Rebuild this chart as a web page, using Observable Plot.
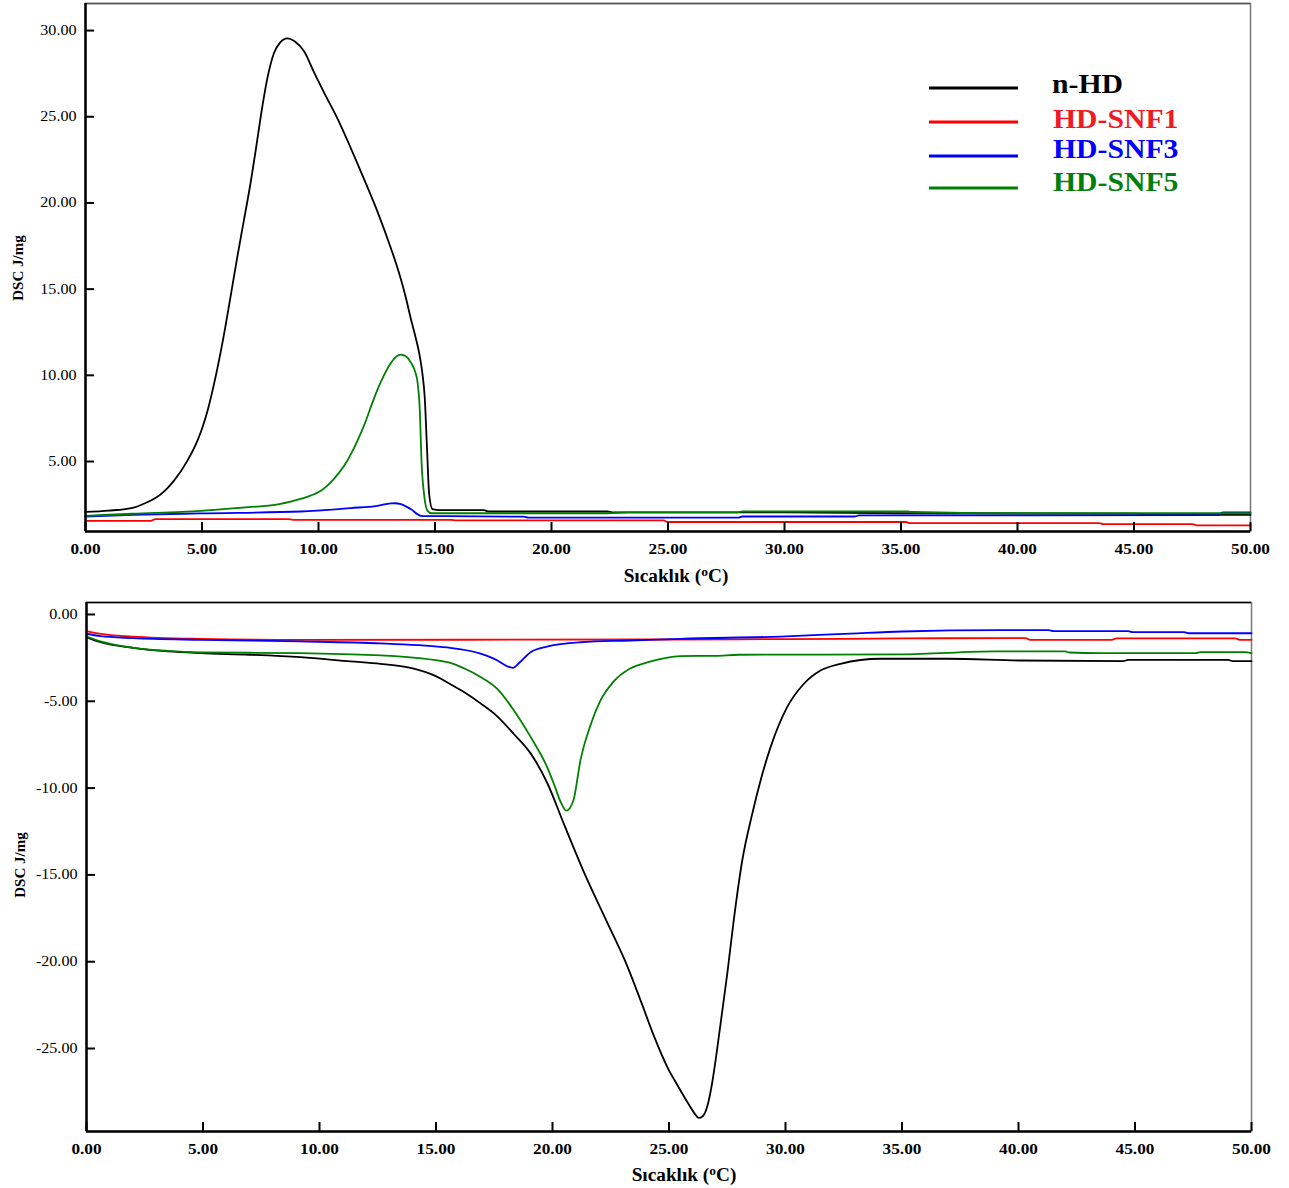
<!DOCTYPE html>
<html>
<head>
<meta charset="utf-8">
<script src="https://cdn.jsdelivr.net/npm/d3@7"></script>
<script src="https://cdn.jsdelivr.net/npm/@observablehq/plot@0.6"></script>
<style>
  body { margin: 0; background: #fff; }
  #wrap { position: relative; width: 1289px; height: 1188px; overflow: hidden; font-family: "Liberation Serif", "Times New Roman", serif; background: #fff; }
  .panel { position: absolute; left: 0; }
  .ylab { position: absolute; transform: translate(-50%, -50%) rotate(-90deg); font-weight: bold; font-size: 15px; white-space: nowrap; }
  .xlab { position: absolute; transform: translate(-50%, -50%) scaleX(1.07); font-weight: bold; font-size: 18px; white-space: nowrap; }
  .xlab sup { font-size: 0.7em; vertical-align: 0.45em; line-height: 0; }
</style>
</head>
<body>
<div id="wrap">
  <div id="top" class="panel" style="top:0px"></div>
  <div id="bottom" class="panel" style="top:590px"></div>
</div>
<script>
// ---------- categories & ticks ----------
const seriesNames = ["n-HD", "HD-SNF1", "HD-SNF3", "HD-SNF5"];
const seriesColors = ["#000000", "#ff0000", "#0000ff", "#008000"];
const legendTextColors = ["#000000", "#ed1c24", "#0000ff", "#007f0e"];
const xTicks = [0, 5, 10, 15, 20, 25, 30, 35, 40, 45, 50];
const topYTicks = [5, 10, 15, 20, 25, 30];
const bottomYTicks = [0, -5, -10, -15, -20, -25];
const xLabel = "Sıcaklık";
const yLabel = "DSC J/mg";

// ---------- top panel ----------
const topT_nHD = [0, 1, 2.07, 2.5, 2.93, 3.4, 3.79, 4.37, 4.8, 5.0, 5.25, 5.5, 5.75, 6.0, 6.23, 6.52, 6.8, 7.09, 7.3, 7.52, 7.8, 8.09, 8.35, 8.66, 9.0, 9.38, 9.8, 10.24, 10.81, 11.38, 11.95, 12.53, 13.1, 13.35, 13.53, 13.75, 13.96, 14.15, 14.32, 14.46, 14.56, 14.65, 14.75, 14.89, 15.2, 17.1, 17.3, 22.4, 22.6, 30, 35, 45, 46, 50];
const topV_nHD = [2.08, 2.15, 2.33, 2.55, 2.82, 3.3, 3.88, 5.04, 6.2, 6.9, 8.0, 9.4, 11.0, 12.8, 14.6, 16.9, 19.0, 21.2, 23.0, 25.0, 27.2, 28.7, 29.3, 29.55, 29.35, 28.8, 27.6, 26.4, 24.9, 23.2, 21.4, 19.5, 17.4, 16.4, 15.6, 14.5, 13.3, 12.3, 11.3, 10.1, 8.7, 6.0, 3.1, 2.24, 2.18, 2.18, 2.1, 2.1, 2.05, 2.05, 2.0, 1.97, 1.92, 1.9];

const topT_SNF1 = [0, 2.8, 3.0, 8.7, 8.9, 15.7, 15.9, 24.8, 25.0, 35.2, 35.4, 43.5, 43.7, 47.5, 47.7, 50];
const topV_SNF1 = [1.56, 1.56, 1.66, 1.66, 1.62, 1.62, 1.58, 1.58, 1.49, 1.49, 1.43, 1.43, 1.37, 1.37, 1.3, 1.3];

const topT_SNF3 = [0, 2, 4.94, 9.24, 11.38, 12.53, 13.1, 13.3, 13.53, 13.96, 14.39, 14.6, 15.5, 18.8, 19.0, 28, 28.2, 33, 33.2, 48.6, 48.8, 50];
const topV_SNF3 = [1.8, 1.9, 1.99, 2.1, 2.3, 2.43, 2.57, 2.58, 2.53, 2.24, 1.85, 1.83, 1.83, 1.8, 1.74, 1.74, 1.81, 1.81, 1.87, 1.89, 2.05, 2.05];

const topT_SNF5 = [0, 2, 4.94, 7, 8.2, 9.0, 9.52, 10.1, 10.38, 10.7, 11.1, 11.38, 11.67, 12.03, 12.31, 12.67, 13.1, 13.35, 13.53, 13.75, 13.96, 14.15, 14.25, 14.35, 14.42, 14.53, 14.68, 14.85, 22.4, 23.3, 28, 28.2, 35.3, 35.5, 40, 50];
const topV_SNF5 = [1.85, 1.97, 2.14, 2.35, 2.5, 2.75, 2.95, 3.3, 3.6, 4.05, 4.75, 5.4, 6.2, 7.35, 8.4, 9.6, 10.7, 11.1, 11.2, 11.1, 10.75, 10.2, 9.6, 7.9, 5.04, 3.1, 2.14, 2.0, 2.0, 2.05, 2.05, 2.1, 2.1, 2.07, 2.0, 2.0];

// ---------- bottom panel ----------
const botT_nHD = [0, 0.6, 2.0, 3.5, 4.9, 7.0, 9.18, 11.33, 12.62, 13.8, 14.2, 14.76, 15.1, 15.49, 16.2, 16.91, 17.64, 18.33, 19.06, 19.79, 20.47, 21.4, 22.3, 23.13, 23.8, 24.36, 24.94, 25.4, 25.84, 26.1, 26.27, 26.45, 26.65, 26.85, 27.05, 27.25, 27.5, 27.78, 28.14, 28.57, 28.93, 29.36, 30.07, 30.79, 31.5, 32.36, 34.08, 37, 40, 44.5, 44.7, 49, 49.2, 50];
const botV_nHD = [-1.3, -1.6, -1.92, -2.13, -2.23, -2.32, -2.46, -2.7, -2.84, -3.05, -3.18, -3.42, -3.62, -3.92, -4.47, -5.12, -5.88, -6.87, -8.0, -9.75, -12.0, -15.0, -17.6, -20.0, -22.3, -24.3, -26.1, -27.2, -28.2, -28.75, -29.0, -28.9, -28.3, -27.0, -25.2, -23.2, -20.7, -17.6, -14.2, -11.5, -9.56, -7.64, -5.34, -3.99, -3.23, -2.84, -2.55, -2.55, -2.65, -2.69, -2.61, -2.61, -2.69, -2.69];

const botT_SNF1 = [0, 0.6, 2.0, 4.9, 9.18, 25, 30, 35, 40.3, 40.5, 44, 44.2, 49.3, 49.5, 50];
const botV_SNF1 = [-0.96, -1.12, -1.27, -1.4, -1.46, -1.44, -1.42, -1.38, -1.36, -1.46, -1.46, -1.38, -1.38, -1.46, -1.46];

const botT_SNF3 = [0, 0.6, 2.0, 4.9, 9.18, 12.62, 15.49, 16.91, 17.64, 18.0, 18.3, 18.6, 19.06, 19.8, 21.2, 23.35, 25.5, 29.8, 32.8, 35, 39.2, 41.3, 41.5, 44.7, 44.9, 47.1, 47.3, 50];
const botV_SNF3 = [-1.11, -1.25, -1.36, -1.46, -1.55, -1.67, -1.9, -2.25, -2.65, -2.95, -3.07, -2.75, -2.17, -1.84, -1.6, -1.5, -1.4, -1.27, -1.1, -0.98, -0.9, -0.9, -0.96, -0.96, -1.02, -1.02, -1.08, -1.08];

const botT_SNF5 = [0, 0.6, 2.0, 3.5, 4.9, 9.18, 12.62, 15.49, 16.2, 16.91, 17.64, 18.33, 19.06, 19.79, 20.1, 20.35, 20.6, 20.9, 21.2, 21.65, 22.06, 22.6, 23.35, 24.1, 25.5, 27, 28, 35, 39, 42, 42.2, 43.5, 47.6, 47.8, 49.7, 50];
const botV_SNF5 = [-1.27, -1.55, -1.92, -2.1, -2.18, -2.23, -2.36, -2.75, -3.1, -3.6, -4.3, -5.5, -7.05, -8.85, -9.9, -10.8, -11.3, -10.7, -8.4, -6.3, -4.95, -3.9, -3.1, -2.75, -2.4, -2.38, -2.32, -2.3, -2.13, -2.13, -2.19, -2.23, -2.23, -2.17, -2.17, -2.23];

// ---------- helpers ----------
const rows = (T, V, s) => T.map((t, i) => ({t, v: V[i], s}));
const topData = [
  ...rows(topT_nHD, topV_nHD, "n-HD"),
  ...rows(topT_SNF1, topV_SNF1, "HD-SNF1"),
  ...rows(topT_SNF3, topV_SNF3, "HD-SNF3"),
  ...rows(topT_SNF5, topV_SNF5, "HD-SNF5")
];
const botData = [
  ...rows(botT_nHD, botV_nHD, "n-HD"),
  ...rows(botT_SNF1, botV_SNF1, "HD-SNF1"),
  ...rows(botT_SNF3, botV_SNF3, "HD-SNF3"),
  ...rows(botT_SNF5, botV_SNF5, "HD-SNF5")
];
const fmt = d => d.toFixed(2);
const serif = "Liberation Serif, Times New Roman, serif";
const TICK = 9;

function panel({data, yDomain, yTicks, height, marginTop, marginBottom, marginLeft, marginRight, topRuleColor}) {
  const xDomain = [0, 50];
  const width = 1289;
  const innerH = height - marginTop - marginBottom;
  const innerW = width - marginLeft - marginRight;
  return Plot.plot({
    width, height, marginTop, marginBottom, marginLeft, marginRight,
    style: {fontFamily: serif, fontSize: "14px", color: "#000", background: "transparent", overflow: "visible"},
    x: {domain: xDomain},
    y: {domain: yDomain},
    color: {domain: seriesNames, range: seriesColors},
    marks: [
      Plot.frame({stroke: "#777", strokeWidth: 1.5}),
      Plot.ruleY([yDomain[1]], {stroke: topRuleColor, strokeWidth: 1.5}),
      Plot.line(data, {x: "t", y: "v", z: "s", stroke: "s", curve: "monotone-x", strokeWidth: 1.8, strokeLinejoin: "round"}),
      Plot.ruleX([xDomain[0]], {stroke: "#000", strokeWidth: 2.5}),
      Plot.ruleY([yDomain[0]], {stroke: "#000", strokeWidth: 2.5}),
      // inward tick marks
      Plot.ruleX(xTicks, {x: d => d, insetTop: innerH - TICK, stroke: "#000", strokeWidth: 2}),
      Plot.ruleY(yTicks, {y: d => d, insetRight: innerW - TICK, stroke: "#000", strokeWidth: 2}),
      Plot.axisX({ticks: xTicks, tickFormat: fmt, tickSize: 0, tickPadding: 12, label: null, fontWeight: "bold", fontSize: 15}),
      Plot.axisY({ticks: yTicks, tickFormat: fmt, tickSize: 0, tickPadding: 9, label: null, fontSize: 14})
    ]
  });
}

const topPlot = panel({data: topData, yDomain: [0.94, 31.57], yTicks: topYTicks, height: 590, marginTop: 3, marginBottom: 59, marginLeft: 85, marginRight: 39, topRuleColor: "#555"});
const botPlot = panel({data: botData, yDomain: [-29.78, 0.69], yTicks: bottomYTicks, height: 598, marginTop: 12, marginBottom: 57, marginLeft: 86, marginRight: 38, topRuleColor: "#000"});
document.getElementById("top").appendChild(topPlot);
document.getElementById("bottom").appendChild(botPlot);

// horizontally widen tick labels like the reference rendering
function widen(svg, stretch) {
  svg.querySelectorAll("[aria-label$='tick label'] text").forEach(t => {
    const len = t.getComputedTextLength();
    if (len > 0) { t.setAttribute("textLength", (len * stretch).toFixed(1)); t.setAttribute("lengthAdjust", "spacingAndGlyphs"); }
  });
}
widen(topPlot, 1.15); widen(botPlot, 1.15);

// ---------- axis titles ----------
const wrap = document.getElementById("wrap");
function addY(x, y) {
  const d = document.createElement("div");
  d.className = "ylab"; d.style.left = x + "px"; d.style.top = y + "px";
  d.textContent = yLabel; wrap.appendChild(d);
}
function addX(x, y) {
  const d = document.createElement("div");
  d.className = "xlab"; d.style.left = x + "px"; d.style.top = y + "px";
  d.innerHTML = xLabel + " (<sup>o</sup>C)"; wrap.appendChild(d);
}
addY(18, 268); addY(20, 865);
addX(676, 576); addX(684, 1175);

// ---------- legend (top panel) ----------
const leg = d3.select(wrap).append("svg")
  .attr("width", 360).attr("height", 150)
  .style("position", "absolute").style("left", "920px").style("top", "60px");
const legLineY = [28, 62, 96, 128];
const legTextY = [33, 68, 98, 131];
seriesNames.forEach((name, i) => {
  leg.append("line").attr("x1", 9).attr("x2", 98).attr("y1", legLineY[i]).attr("y2", legLineY[i])
    .attr("stroke", seriesColors[i]).attr("stroke-width", 3);
  const t = leg.append("text").attr("x", i === 0 ? 132 : 133).attr("y", legTextY[i])
    .attr("fill", legendTextColors[i]).attr("font-family", serif).attr("font-weight", "bold")
    .attr("font-size", 27).text(name);
  const len = t.node().getComputedTextLength();
  t.attr("textLength", (len * 1.1).toFixed(1)).attr("lengthAdjust", "spacingAndGlyphs");
});
</script>
</body>
</html>
